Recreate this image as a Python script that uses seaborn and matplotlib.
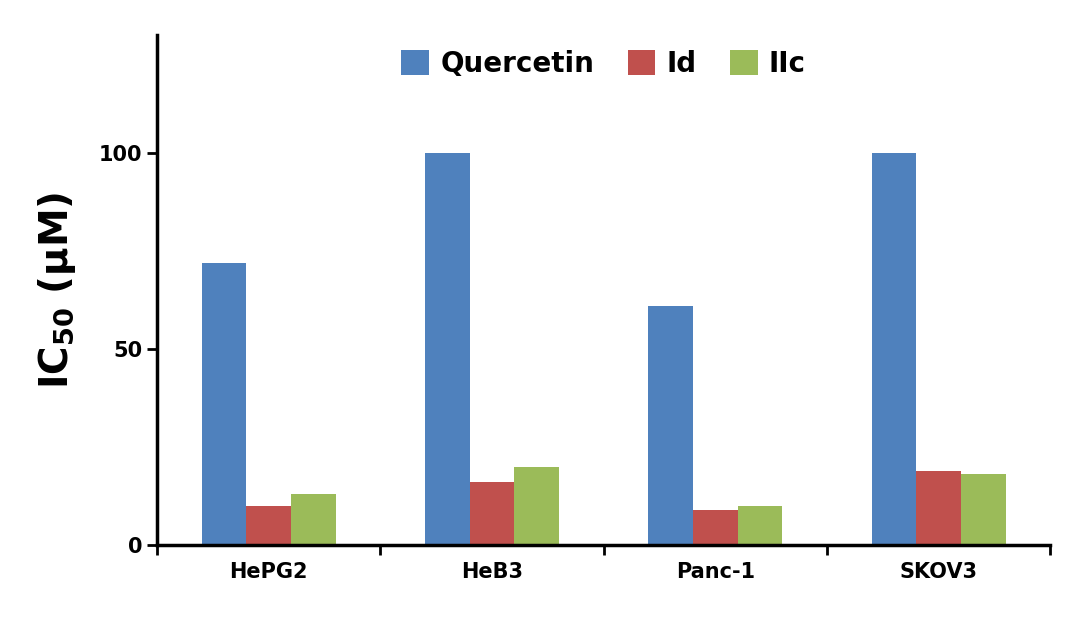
import numpy as np
import pandas as pd
import matplotlib.pyplot as plt
import seaborn as sns

cells = ["HePG2", "HeB3", "Panc-1", "SKOV3"]
quercetin = [72, 100, 61, 100]
id_vals = [10, 16, 9, 19]
iic = [13, 20, 10, 18]
series = ["Quercetin", "Id", "IIc"]
colors = ["#4F81BD", "#C0504D", "#9BBB59"]

df = pd.DataFrame({
    "cell": cells * 3,
    "compound": np.repeat(series, len(cells)),
    "ic50": quercetin + id_vals + iic,
})

sns.set_style("white", {"xtick.bottom": True, "ytick.left": True,
                        "text.color": "black", "axes.labelcolor": "black",
                        "xtick.color": "black", "ytick.color": "black"})
plt.rcParams["font.family"] = ["DejaVu Sans"]
plt.rcParams["font.weight"] = "bold"

fig = plt.figure(figsize=(10.76, 6.23), dpi=100)
ax = fig.add_axes([0.146, 0.125, 0.83, 0.819])
sns.barplot(data=df, x="cell", y="ic50", hue="compound", palette=colors,
            width=0.6, gap=0, saturation=1, linewidth=0, ax=ax)

ax.set_ylim(0, 130)
ax.set_xlim(-0.5, 3.5)
ax.set_yticks([0, 50, 100])
ax.set_xticks(np.arange(-0.5, 4, 1), minor=True)
ax.tick_params(axis="x", which="major", length=0, labelsize=15, pad=12)
ax.tick_params(axis="x", which="minor", bottom=True, length=7, width=2, direction="out")
ax.tick_params(axis="y", length=7, width=2, direction="out", labelsize=15, left=True)
for lab in ax.get_xticklabels() + ax.get_yticklabels():
    lab.set_fontweight("bold")
for s in ["top", "right"]:
    ax.spines[s].set_visible(False)
for s in ["left", "bottom"]:
    ax.spines[s].set_linewidth(2.5)
    ax.spines[s].set_color("black")
ax.set_xlabel("")
ax.set_ylabel("IC$_{\\mathbf{50}}$ (μM)", fontsize=28, fontweight="bold", labelpad=15)
ax.legend(loc="upper center", bbox_to_anchor=(0.5, 1.02), ncol=3, frameon=False,
          prop={"size": 20, "weight": "bold"}, handlelength=1.0, handleheight=1.0,
          columnspacing=1.2, handletextpad=0.4)

fig.savefig("out.png", dpi=100)
